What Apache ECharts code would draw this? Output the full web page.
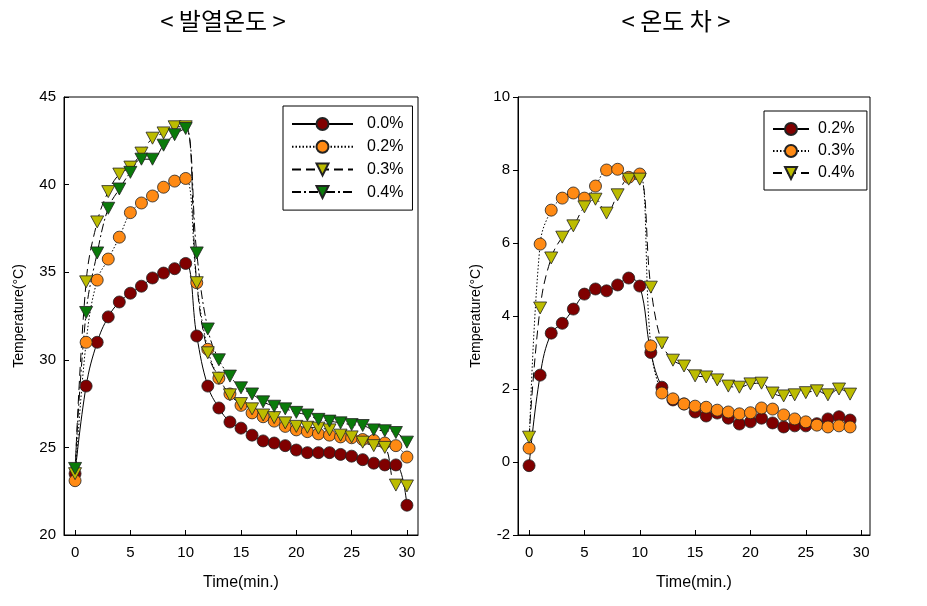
<!DOCTYPE html>
<html>
<head>
<meta charset="utf-8">
<script src="https://cdn.jsdelivr.net/npm/echarts@6/dist/echarts.min.js"></script>
<style>html,body{margin:0;padding:0;background:#fff;}#c{width:927px;height:606px;}</style>
</head>
<body>
<div id="c"></div>
<script>
// ---- Data ----
const timeLeft = [0,1,2,3,4,5,6,7,8,9,10,11,12,13,14,15,16,17,18,19,20,21,22,23,24,25,26,27,28,29,30];
const timeRight = [0,1,2,3,4,5,6,7,8,9,10,11,12,13,14,15,16,17,18,19,20,21,22,23,24,25,26,27,28,29];
const xTicks = [0,5,10,15,20,25,30];

const leftNames = ['0.0%','0.2%','0.3%','0.4%'];
const heat00 = [23.5,28.5,31.0,32.45,33.3,33.8,34.2,34.67,34.95,35.2,35.5,31.36,28.5,27.25,26.45,26.1,25.7,25.37,25.25,25.1,24.85,24.7,24.7,24.7,24.6,24.5,24.3,24.1,24.0,24.0,21.7];
const heat02 = [23.1,31.0,34.55,35.75,37.0,38.4,38.95,39.35,39.85,40.2,40.35,34.4,30.6,28.95,28.05,27.4,26.97,26.75,26.5,26.2,26.0,25.9,25.77,25.7,25.6,25.55,25.45,25.4,25.25,25.1,24.45];
const heat03 = [23.5,34.45,37.87,39.6,40.6,41.0,41.8,42.65,42.95,43.3,43.3,34.4,30.4,28.95,28.0,27.5,27.2,26.85,26.7,26.4,26.2,26.15,26.1,26.0,25.7,25.6,25.3,25.1,25.0,22.85,22.8];
const heat04 = [23.8,32.7,36.1,38.65,39.75,40.7,41.45,41.45,42.25,42.85,43.2,36.1,31.76,30.0,29.07,28.4,28.05,27.6,27.35,27.2,27.0,26.85,26.6,26.5,26.4,26.3,26.25,26.0,25.95,25.85,25.3];

const rightNames = ['0.2%','0.3%','0.4%'];
const diff02 = [-0.1,2.38,3.53,3.8,4.19,4.6,4.74,4.69,4.85,5.04,4.82,3.0,2.05,1.7,1.59,1.37,1.26,1.34,1.2,1.04,1.1,1.2,1.07,0.96,0.99,0.99,1.05,1.18,1.24,1.15];
const diff03 = [0.38,5.97,6.9,7.23,7.37,7.23,7.56,8.0,8.02,7.8,7.89,3.18,1.89,1.73,1.59,1.53,1.5,1.42,1.37,1.32,1.35,1.48,1.45,1.29,1.18,1.1,1.01,0.96,0.99,0.96];
const diff04 = [0.68,4.22,5.59,6.16,6.47,6.99,7.2,6.82,7.32,7.75,7.75,4.79,3.26,2.79,2.63,2.36,2.33,2.25,2.08,2.05,2.14,2.16,1.89,1.81,1.84,1.9,1.95,1.84,2.0,1.86];

const titles = ['< 발열온도 >', '< 온도 차 >'];
const yName = 'Temperature(°C)';
const xName = 'Time(min.)';

// ---- Styles ----
const C_DRED = '#800000', C_ORANGE = '#ff8a14', C_YEL = '#bcbc00', C_GREEN = '#0a7a0a';
const FONT = 'Liberation Sans, Arial, sans-serif';
const pairs = (xs, ys) => xs.map((x, i) => [x, ys[i]]);

function mk(name, xs, ys, idx, color, sym, dash) {
  const isTri = sym === 'triangle';
  return {
    name, type: 'line', xAxisIndex: idx, yAxisIndex: idx,
    data: pairs(xs, ys),
    smooth: 0.4,
    symbol: sym,
    symbolSize: isTri ? [13, 12] : 12,
    symbolRotate: isTri ? 180 : 0,
    showAllSymbol: true,
    lineStyle: { color: '#000', width: 1, type: dash },
    itemStyle: { color: color, borderColor: '#222', borderWidth: 0.8 },
    emphasis: { disabled: true },
    animation: false
  };
}

const DOT = [1.5, 2];
const DASH = [9, 5];
const DASHDOT = [9, 3, 2, 3];

function xAx(idx, min, max) {
  return {
    type: 'value', gridIndex: idx, min, max,
    name: xName, nameLocation: 'middle', nameGap: 40,
    nameTextStyle: { fontFamily: FONT, fontSize: 16, color: '#000' },
    axisLine: { show: true, onZero: false, lineStyle: { color: '#000', width: 1 } },
    axisTick: { show: true, inside: true, length: 5, customValues: xTicks, lineStyle: { color: '#000' } },
    axisLabel: { show: true, customValues: xTicks, margin: 10, fontFamily: FONT, fontSize: 15, color: '#000' },
    splitLine: { show: false }
  };
}
function yAx(idx, min, max, interval, inside, gap) {
  return {
    type: 'value', gridIndex: idx, min, max, interval,
    name: yName, nameLocation: 'middle', nameGap: gap, nameRotate: 90,
    nameTextStyle: { fontFamily: FONT, fontSize: 14, color: '#000' },
    axisLine: { show: true, onZero: false, lineStyle: { color: '#000', width: 1 } },
    axisTick: { show: true, inside: inside, length: 5, lineStyle: { color: '#000' } },
    axisLabel: { show: true, margin: 8, fontFamily: FONT, fontSize: 15, color: '#000' },
    splitLine: { show: false }
  };
}

const chart = echarts.init(document.getElementById('c'), null, { renderer: 'canvas' });
chart.setOption({
  backgroundColor: '#fff',
  animation: false,
  title: [
    { text: titles[0], left: 218, top: 4, textAlign: 'center', textStyle: { fontFamily: 'Noto Sans CJK KR', fontWeight: 'normal', fontSize: 24, color: '#000' } },
    { text: titles[1], left: 671, top: 4, textAlign: 'center', textStyle: { fontFamily: 'Noto Sans CJK KR', fontWeight: 'normal', fontSize: 24, color: '#000' } }
  ],
  grid: [
    { left: 64, top: 97, width: 354, height: 438, show: true, borderColor: '#000', borderWidth: 1, backgroundColor: 'transparent' },
    { left: 518, top: 97, width: 352, height: 438, show: true, borderColor: '#000', borderWidth: 1, backgroundColor: 'transparent' }
  ],
  xAxis: [ xAx(0, -1, 31), xAx(1, -1, 30.8) ],
  yAxis: [ yAx(0, 20, 45, 5, true, 38), yAx(1, -2, 10, 2, false, 35) ],
  legend: [
    {
      data: leftNames.map(n => ({ name: n })),
      orient: 'vertical', left: 283, top: 106,
      itemWidth: 61, itemHeight: 15, itemGap: 6.7,
      padding: [10, 9, 10, 8],
      borderColor: '#000', borderWidth: 1,
      textStyle: { fontFamily: FONT, fontSize: 16, color: '#000', padding: [0, 0, 0, 9] },
      selectedMode: false
    },
    {
      data: rightNames.map(n => ({ name: n + ' ' })),
      orient: 'vertical', left: 764, top: 111,
      itemWidth: 36, itemHeight: 15, itemGap: 6,
      padding: [10, 8, 9, 8],
      borderColor: '#000', borderWidth: 1,
      textStyle: { fontFamily: FONT, fontSize: 16, color: '#000', padding: [0, 0, 0, 4] },
      selectedMode: false
    }
  ],
  series: [
    mk(leftNames[0], timeLeft, heat00, 0, C_DRED, 'circle', 'solid'),
    mk(leftNames[1], timeLeft, heat02, 0, C_ORANGE, 'circle', DOT),
    mk(leftNames[2], timeLeft, heat03, 0, C_YEL, 'triangle', DASH),
    mk(leftNames[3], timeLeft, heat04, 0, C_GREEN, 'triangle', DASHDOT),
    mk(rightNames[0] + ' ', timeRight, diff02, 1, C_DRED, 'circle', 'solid'),
    mk(rightNames[1] + ' ', timeRight, diff03, 1, C_ORANGE, 'circle', DOT),
    mk(rightNames[2] + ' ', timeRight, diff04, 1, C_YEL, 'triangle', DASH)
  ]
});
</script>
</body>
</html>
